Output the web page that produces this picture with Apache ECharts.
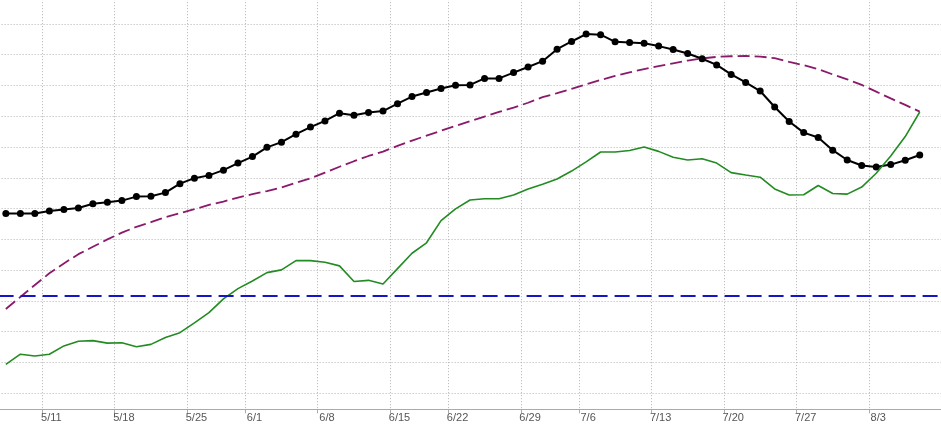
<!DOCTYPE html>
<html>
<head>
<meta charset="utf-8">
<script src="https://cdn.jsdelivr.net/npm/echarts@6/dist/echarts.min.js"></script>
<style>
html,body{margin:0;padding:0;background:#fff;}
#c{width:941px;height:425px;}
</style>
</head>
<body>
<div id="c"></div>
<script>
const YEAR = 2026;
const dates = ['5/6','5/7','5/8','5/11','5/12','5/13','5/14','5/15','5/18','5/19','5/20','5/21','5/22','5/26','5/27','5/28','5/29',
  '6/1','6/2','6/3','6/4','6/5','6/8','6/9','6/10','6/11','6/12','6/15','6/16','6/17','6/18','6/22','6/23','6/24','6/25','6/26','6/29','6/30',
  '7/1','7/2','7/6','7/7','7/8','7/9','7/10','7/13','7/14','7/15','7/16','7/17','7/20','7/21','7/22','7/23','7/24','7/27','7/28','7/29','7/30','7/31',
  '8/3','8/4','8/5','8/6','8/7'];

const blackSeries = [68.4, 68.4, 68.4, 69.2, 69.7, 70.2, 71.6, 72.1, 72.6, 73.9,
  74.0, 75.2, 78.1, 79.9, 80.8, 82.5, 84.8, 86.9, 89.9, 91.6,
  94.2, 96.5, 98.5, 101.0, 100.3, 101.2, 101.7, 104.1, 106.4, 107.7,
  109.0, 110.1, 110.2, 112.3, 112.3, 114.2, 116.0, 117.9, 121.8, 124.3,
  126.7, 126.5, 124.2, 124.0, 123.7, 122.8, 121.7, 120.4, 118.7, 116.7,
  113.6, 111.0, 108.2, 103.0, 98.3, 94.7, 93.1, 89.0, 85.8, 84.0,
  83.5, 84.3, 85.7, 87.4];

const greenSeries = [19.4, 22.7, 22.1, 22.7, 25.4, 26.9, 27.1, 26.3, 26.4, 25.1,
  25.9, 28.1, 29.7, 32.9, 36.2, 40.7, 44.0, 46.5, 49.2, 50.1,
  53.1, 53.1, 52.6, 51.4, 46.3, 46.7, 45.5, 50.5, 55.5, 58.9,
  66.1, 69.9, 72.8, 73.2, 73.2, 74.4, 76.4, 77.9, 79.6, 82.2,
  85.2, 88.4, 88.4, 88.9, 90.0, 88.6, 86.7, 85.8, 86.2, 84.8,
  81.7, 80.9, 80.2, 76.4, 74.4, 74.5, 77.5, 74.9, 74.7, 77.0,
  81.5, 87.1, 93.4, 101.4];

const purpleSeries = [37.4, 41.3, 45.2, 49.0, 52.2, 55.2, 57.6, 60.0, 62.2, 64.1,
  65.6, 67.2, 68.5, 69.8, 71.2, 72.3, 73.6, 74.7, 75.7, 76.9,
  78.4, 79.8, 81.7, 83.6, 85.4, 87.1, 88.5, 90.4, 92.1, 93.7,
  95.3, 96.9, 98.4, 99.9, 101.4, 102.8, 104.4, 106.2, 107.5, 108.9,
  110.4, 111.8, 113.1, 114.3, 115.3, 116.3, 117.2, 118.1, 118.8, 119.3,
  119.5, 119.6, 119.4, 118.9, 117.7, 116.6, 115.3, 113.6, 112.0, 110.2,
  108.0, 105.8, 103.7, 101.5];

const threshold = 41.8;

function mondayOf(s) {
  const p = s.split('/').map(Number);
  const dt = new Date(YEAR, p[0] - 1, p[1]);
  const wd = (dt.getDay() + 6) % 7;
  dt.setDate(dt.getDate() - wd);
  return (dt.getMonth() + 1) + '/' + dt.getDate();
}
function isWeekStart(i) {
  return i > 0 && mondayOf(dates[i]) !== mondayOf(dates[i - 1]);
}

const chart = echarts.init(document.getElementById('c'), null, {renderer: 'canvas'});
const dotted = {type: [1, 2], color: '#b4b4b4', width: 1};
chart.setOption({
  animation: false,
  backgroundColor: '#ffffff',
  grid: {left: -1.4, right: -0.5, top: -6.84, bottom: 15.7, containLabel: false, outerBoundsMode: 'none'},
  xAxis: {
    type: 'category',
    data: dates,
    boundaryGap: true,
    axisLine: {show: true, lineStyle: {color: '#aaaaaa', width: 1}},
    axisTick: {show: true, interval: (i) => isWeekStart(i), length: 4, lineStyle: {color: '#aaaaaa'}},
    axisLabel: {
      interval: (i) => isWeekStart(i),
      formatter: (v) => mondayOf(v),
      fontSize: 11,
      color: '#555555',
      margin: 3,
      padding: [0, 0, 0, 4],
      fontFamily: 'Liberation Sans, Arial, sans-serif'
    },
    splitLine: {show: true, interval: (i) => isWeekStart(i), lineStyle: dotted}
  },
  yAxis: {
    type: 'value',
    min: 4.8,
    max: 140,
    splitNumber: 13,
    axisLine: {show: false},
    axisTick: {show: false},
    axisLabel: {show: false},
    splitLine: {show: true, lineStyle: dotted}
  },
  series: [
    {
      type: 'line',
      data: purpleSeries,
      symbol: 'none',
      lineStyle: {color: '#8b1a6b', width: 1.8, type: [12, 5]},
      z: 2,
      markLine: {
        silent: true,
        symbol: ['none', 'none'],
        label: {show: false},
        lineStyle: {color: '#1414c8', width: 2, type: [15, 7]},
        data: [{yAxis: threshold}]
      }
    },
    {
      type: 'line',
      data: blackSeries,
      symbol: 'circle',
      symbolSize: 7,
      showAllSymbol: true,
      lineStyle: {color: '#000000', width: 2},
      itemStyle: {color: '#000000'},
      z: 3
    },
    {
      type: 'line',
      data: greenSeries,
      symbol: 'none',
      lineStyle: {color: '#228b22', width: 1.6},
      z: 4
    }
  ]
});
</script>
</body>
</html>
